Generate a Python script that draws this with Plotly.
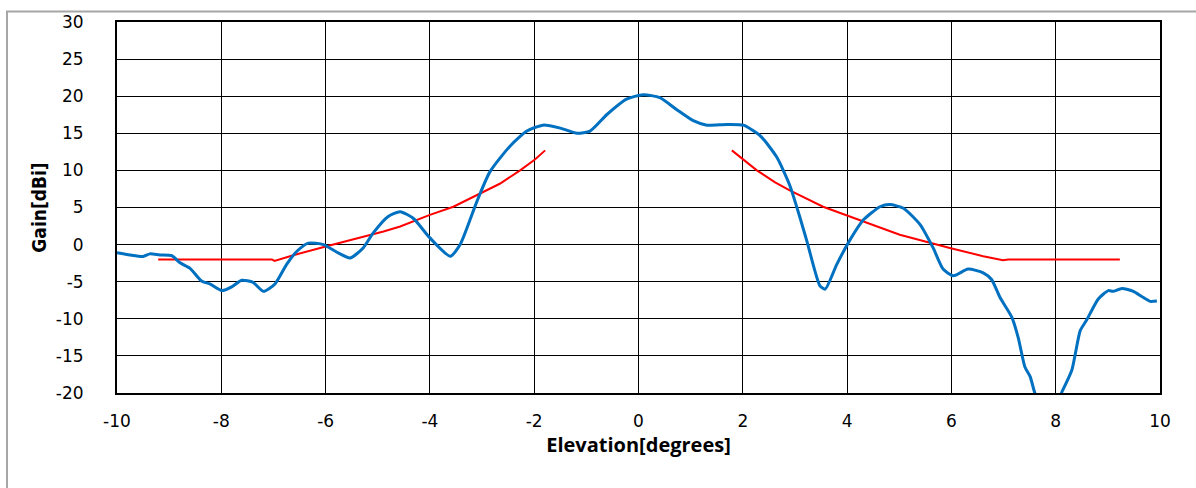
import plotly.graph_objects as go

# Measured antenna gain pattern (blue)
elev = [-10.0, -9.75, -9.5, -9.37, -9.18, -8.95, -8.79, -8.6, -8.38, -8.22, -7.99, -7.8, -7.61,
        -7.39, -7.19, -6.97, -6.75, -6.55, -6.33, -6.04, -5.79, -5.53, -5.28, -5.09, -4.8,
        -4.57, -4.32, -4.0, -3.61, -3.42, -3.1, -2.85, -2.46, -2.14, -1.83, -1.5, -1.18,
        -0.93, -0.61, -0.23, 0.09, 0.41, 0.73, 1.05, 1.31, 1.69, 2.01, 2.33, 2.65, 2.9, 3.1,
        3.23, 3.48, 3.58, 3.8, 4.02, 4.31, 4.63, 4.82, 5.08, 5.4, 5.65, 5.84, 6.04, 6.32,
        6.61, 6.77, 6.93, 7.16, 7.28, 7.41, 7.51, 7.6, 7.85, 8.11, 8.31, 8.47, 8.59, 8.82,
        9.01, 9.1, 9.27, 9.49, 9.65, 9.81, 9.94]
gain = [-1.1, -1.4, -1.6, -1.25, -1.4, -1.5, -2.45, -3.2, -4.9, -5.3, -6.2, -5.7, -4.8,
        -5.1, -6.3, -5.3, -2.7, -0.9, 0.2, 0.0, -1.0, -1.8, -0.45, 1.55, 3.8,
        4.44, 3.55, 0.9, -1.56, 0.0, 5.8, 9.8, 13.3, 15.3, 16.1, 15.7, 15.0,
        15.3, 17.5, 19.6, 20.2, 19.8, 18.2, 16.7, 16.1, 16.2, 16.1, 14.7, 11.8, 8.0, 3.55,
        0.44, -5.56, -6.0, -2.7, 0.2, 3.3, 5.1, 5.4, 4.9, 2.7, -0.45, -3.3, -4.2, -3.3,
        -3.8, -4.7, -7.1, -9.8, -12.5, -16.5, -17.8, -20.0, -24.0, -20.0, -16.9, -11.6, -10.2, -7.3,
        -6.2, -6.3, -5.9, -6.3, -7.0, -7.65, -7.6]

# Mask (red)
mask_x = [-9.21, -7.03, -6.98, -6.62, -5.98, -5.47, -4.89, -4.57, -4.0, -3.55, -3.04, -2.66, -2.27, -1.98, -1.79,
          None,
          1.79, 2.27, 2.62, 2.9, 3.54, 4.31, 5.01, 5.97, 6.61, 6.99, 7.09, 9.23]
mask_y = [-2.0, -2.0, -2.2, -1.43, -0.23, 0.67, 1.77, 2.44, 4.0, 5.1, 6.9, 8.2, 10.0, 11.5, 12.7,
          None,
          12.7, 10.0, 8.4, 7.3, 5.1, 3.1, 1.33, -0.45, -1.56, -2.1, -2.0, -2.0]

x_ticks = [-10, -8, -6, -4, -2, 0, 2, 4, 6, 8, 10]
y_ticks = [-20, -15, -10, -5, 0, 5, 10, 15, 20, 25, 30]

fig = go.Figure()
fig.add_trace(go.Scatter(x=mask_x, y=mask_y, mode="lines",
                         line=dict(color="#FF0000", width=2), connectgaps=False,
                         showlegend=False, hoverinfo="skip"))
fig.add_trace(go.Scatter(x=elev, y=gain, mode="lines",
                         line=dict(color="#0070C0", width=3, shape="spline", smoothing=0.6),
                         showlegend=False))

W, H = 1196, 488
L, R, T, B = 117, 1160, 18, 393
pw, ph = R - L, B - T

fig.update_layout(
    width=W, height=H,
    margin=dict(l=L, r=W - R, t=T, b=H - B),
    paper_bgcolor="white", plot_bgcolor="white",
    font=dict(family="DejaVu Sans", size=17, color="#000000"),
    shapes=[dict(type="rect", xref="paper", yref="paper",
                 x0=(7 - L) / pw, x1=(1210 - L) / pw,
                 y0=(B - 500) / ph, y1=(B - 7.5) / ph,
                 line=dict(color="#A6A6A6", width=2), fillcolor="rgba(0,0,0,0)", layer="below")],
)
fig.update_xaxes(range=[-10, 10], tickvals=x_ticks, ticktext=[str(v) for v in x_ticks],
                 showgrid=True, gridcolor="#000000", gridwidth=1.3, zeroline=False,
                 showline=True, linecolor="#000000", linewidth=2, mirror=True,
                 ticks="", ticklabelstandoff=12,
                 tickfont=dict(family="DejaVu Sans", size=17),
                 title=dict(text="<b>Elevation[degrees]</b>", standoff=8,
                            font=dict(family="Open Sans", size=20)))
fig.update_yaxes(range=[-20, 30], tickvals=y_ticks, ticktext=[str(v) for v in y_ticks],
                 showgrid=True, gridcolor="#000000", gridwidth=1.3, zeroline=False,
                 showline=True, linecolor="#000000", linewidth=2, mirror=True,
                 ticks="", ticklabelstandoff=28,
                 tickfont=dict(family="DejaVu Sans", size=17),
                 title=dict(text="<b>Gain[dBi]</b>", standoff=4,
                            font=dict(family="Liberation Sans Narrow, DejaVu Sans Condensed", size=19)))

fig.write_html("out.html")
